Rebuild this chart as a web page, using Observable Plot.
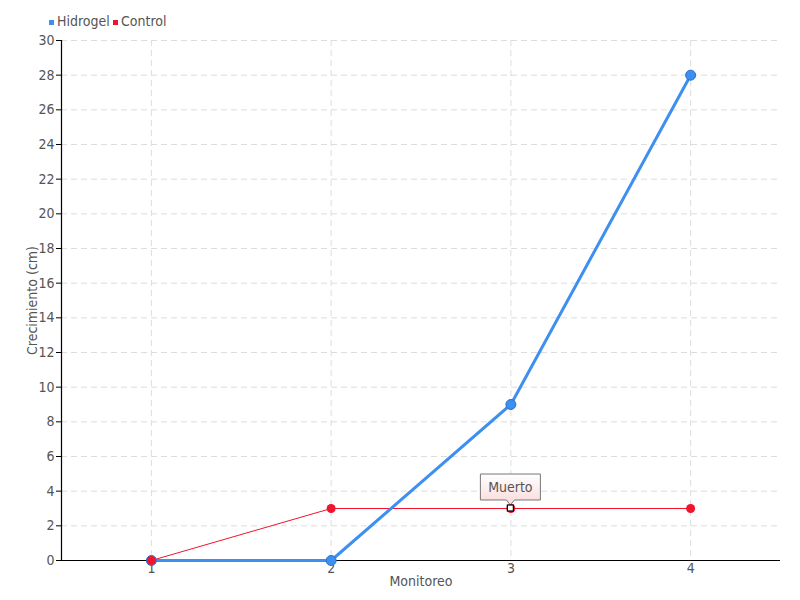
<!DOCTYPE html>
<html><head><meta charset="utf-8">
<script src="https://cdn.jsdelivr.net/npm/d3@7"></script>
<script src="https://cdn.jsdelivr.net/npm/@observablehq/plot@0.6"></script>
<style>
body{margin:0;background:#fff;font-family:"DejaVu Sans Condensed","DejaVu Sans",sans-serif;font-stretch:condensed;}
#legend{height:30px;position:relative;font-size:14px;color:#555;}
#legend .item{position:absolute;top:13px;display:flex;align-items:center;}
#legend .sw{width:5px;height:5px;margin-right:3px;margin-top:2px;}
svg text{font-stretch:condensed;}
</style></head><body>
<div id="legend"></div>
<div id="chart"></div>
<script>
const monitoreo = [1, 2, 3, 4];
const hidrogel = [0, 0, 9, 28];
const control = [0, 3, 3, 3];
const yTicks = [0,2,4,6,8,10,12,14,16,18,20,22,24,26,28,30];
const series = ["Hidrogel", "Control"];
const colors = ["#3d8ff0", "#f0142d"];
const notes = [{m: 3, v: 3, text: "Muerto"}];

const hData = monitoreo.map((m, i) => ({m, v: hidrogel[i]}));
const cData = monitoreo.map((m, i) => ({m, v: control[i]}));

// legend
const lg = document.getElementById("legend");
const lx = [49, 113];
series.forEach((s, i) => {
  const d = document.createElement("div");
  d.className = "item";
  d.style.left = lx[i] + "px";
  d.innerHTML = `<span class="sw" style="background:${colors[i]}"></span><span>${s}</span>`;
  lg.appendChild(d);
});

function tipMark(index, scales) {
  const g = d3.create("svg:g");
  const defs = g.append("defs");
  const grad = defs.append("linearGradient").attr("id", "tipgrad").attr("x1", 0).attr("x2", 0).attr("y1", 0).attr("y2", 1);
  grad.append("stop").attr("offset", "0%").attr("stop-color", "#ffffff");
  grad.append("stop").attr("offset", "100%").attr("stop-color", "#fcd9d9");
  for (const n of notes) {
    const x = scales.x(n.m), y = scales.y(n.v);
    const w = 60, h = 26, gap = 8;
    const top = y - gap - h, bot = y - gap;
    const path = `M${x - w/2},${top}H${x + w/2}V${bot}H${x + 4}L${x},${y - 3}L${x - 4},${bot}H${x - w/2}Z`;
    g.append("path").attr("d", path).attr("fill", "url(#tipgrad)").attr("stroke", "#777").attr("stroke-width", 1);
    g.append("text").attr("x", x).attr("y", top + h/2).attr("dy", "0.35em")
      .attr("text-anchor", "middle").attr("fill", "#555").attr("font-size", 14).text(n.text);
    g.append("rect").attr("x", x - 3).attr("y", y - 3).attr("width", 6).attr("height", 6)
      .attr("fill", "#fff").attr("stroke", "#000").attr("stroke-width", 1.2);
  }
  return g.node();
}

const chart = Plot.plot({
  width: 800,
  height: 570,
  marginLeft: 61,
  marginRight: 20,
  marginTop: 10,
  marginBottom: 40,
  style: {fontFamily: '"DejaVu Sans Condensed","DejaVu Sans",sans-serif', fontSize: "14px", color: "#555", background: "#fff"},
  x: {domain: [0.5, 4.5], ticks: monitoreo},
  y: {domain: [0, 30], ticks: yTicks},
  marks: [
    Plot.gridY(yTicks, {stroke: "#ddd", strokeOpacity: 1, strokeDasharray: "6,4"}),
    Plot.gridX(monitoreo, {stroke: "#ddd", strokeOpacity: 1, strokeDasharray: "6,4"}),
    Plot.axisY(yTicks, {tickSize: 5, tickPadding: 2, fontSize: 14, tickFormat: "d", label: "Crecimiento (cm)", labelAnchor: "center", labelOffset: 34, labelArrow: "none", stroke: "#000", fill: "#555"}),
    Plot.axisX(monitoreo, {tickSize: 0, tickPadding: 3, fontSize: 14, tickFormat: "d", label: "Monitoreo", labelAnchor: "center", labelOffset: 25, labelArrow: "none", fill: "#555"}),
    Plot.ruleX([0.5], {stroke: "#000", strokeWidth: 1.2}),
    Plot.ruleY([0], {stroke: "#000", strokeWidth: 1.2}),
    Plot.line(cData, {x: "m", y: "v", stroke: colors[1], strokeWidth: 1}),
    Plot.line(hData, {x: "m", y: "v", stroke: colors[0], strokeWidth: 3}),
    Plot.dot(hData, {x: "m", y: "v", r: 5, fill: colors[0], stroke: "#2a70c8", strokeWidth: 1}),
    Plot.dot(cData, {x: "m", y: "v", r: 4.5, fill: colors[1], stroke: "none"}),
    tipMark
  ]
});
document.getElementById("chart").appendChild(chart);
</script>
</body></html>
